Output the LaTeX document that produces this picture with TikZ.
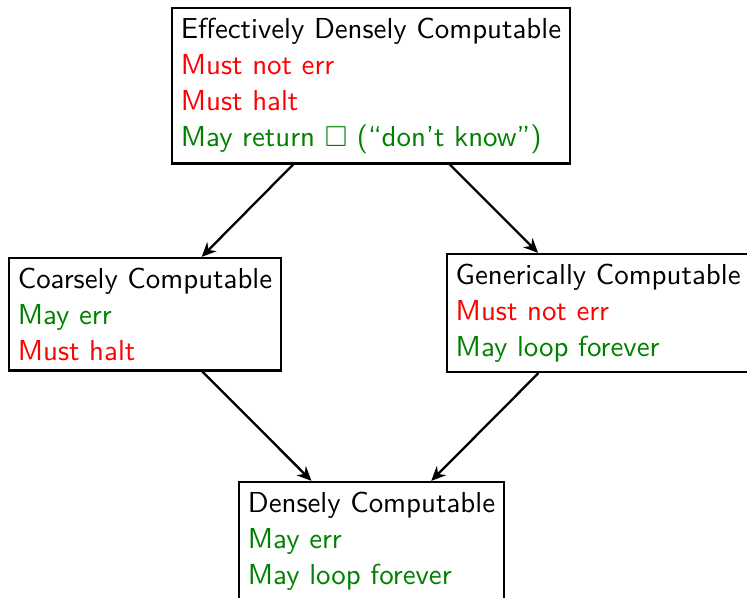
\documentclass[tikz,border=0pt]{standalone}
\usepackage{amssymb}
\usetikzlibrary{arrows.meta}
\definecolor{mustc}{RGB}{255,0,0}
\definecolor{mayc}{RGB}{0,128,0}
\begin{document}
\begin{tikzpicture}[x=1pt,y=1pt,
  box/.style={draw, thick, rectangle, align=left, font=\sffamily\fontsize{10}{12.45}\selectfont, inner xsep=3pt, inner ysep=3.4pt, anchor=north west},
  conn/.style={-{Stealth[length=5pt,width=4.5pt]}, thick}]
\useasboundingbox (0,0) rectangle (258.5,-206.6);
\node[box] (edc) at (59.2,-2.42) {Effectively Densely Computable\\
  \textcolor{mustc}{Must not err}\\
  \textcolor{mustc}{Must halt}\\
  \textcolor{mayc}{May return $\square$ (“don’t know”)}};
\node[box] (cc) at (2.77,-88.9) {Coarsely Computable\\
  \textcolor{mayc}{May err}\\
  \textcolor{mustc}{Must halt}};
\node[box] (gc) at (154.3,-87.5) {Generically Computable\\
  \textcolor{mustc}{Must not err}\\
  \textcolor{mayc}{May loop forever}};
\node[box] (dc) at (82.4,-166.4) {Densely Computable\\
  \textcolor{mayc}{May err}\\
  \textcolor{mayc}{May loop forever}};
\draw[conn] (edc) -- (cc);
\draw[conn] (edc) -- (gc);
\draw[conn] (cc) -- (dc);
\draw[conn] (gc) -- (dc);
\end{tikzpicture}
\end{document}
